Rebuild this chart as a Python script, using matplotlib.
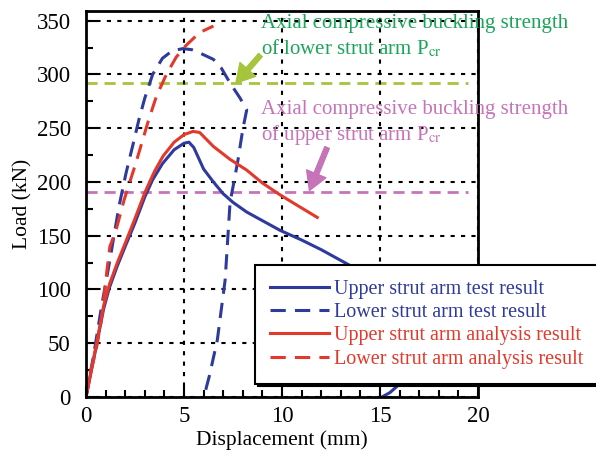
import matplotlib.pyplot as plt

plt.rcParams['font.family'] = ['Liberation Serif', 'DejaVu Serif']
plt.rcParams['mathtext.fontset'] = 'stix'

# upper strut arm test result (solid blue)
up_test_x = [0, 0.5, 0.9, 1.2, 1.6, 2.0, 2.5, 3.0, 3.4, 3.9, 4.5, 5.0, 5.25, 5.5, 6.0, 6.5, 7.0, 7.5, 8.2, 9.0, 9.9, 11.0, 12.0, 13.0, 14.0, 15.0, 15.8, 16.3, 16.0, 15.5, 15.1]
up_test_y = [0, 45, 82, 102, 122, 140, 162, 186, 202, 217, 230, 236, 237, 232, 212, 200, 189, 181, 172, 164, 155, 146, 137, 127, 117, 100, 70, 35, 12, 4, 0]

# lower strut arm test result (dashed blue)
low_test_x = [0, 0.4, 0.8, 1.05, 1.28, 1.68, 2.04, 2.4, 2.7, 3.0, 3.4, 3.9, 4.4, 4.95, 5.4, 5.8, 6.5, 6.9, 7.35, 7.86, 8.2, 8.0, 7.76, 7.6, 7.35, 7.1, 6.7, 6.3, 6.07, 6.0]
low_test_y = [0, 40, 85, 110, 134, 177, 208, 235, 258, 278, 300, 315, 322, 324, 323, 320, 314, 306, 292, 278, 267, 249, 221, 205, 181, 109, 53, 20, 4, 0]

# upper strut arm analysis result (solid red)
up_ana_x = [0, 0.5, 0.9, 1.2, 1.6, 2.0, 2.5, 3.0, 3.5, 3.93, 4.5, 5.0, 5.46, 5.8, 6.5, 7.35, 8.2, 9.0, 9.9, 10.8, 11.8]
up_ana_y = [0, 46, 85, 105, 125, 143, 166, 190, 210, 224, 237, 244, 247, 246, 233, 221, 211, 199, 188, 178, 167]

# lower strut arm analysis result (dashed red)
low_ana_x = [0, 0.2, 0.5, 0.77, 0.93, 1.07, 1.22, 1.53, 1.94, 2.55, 3.2, 3.6, 4.1, 4.6, 5.05, 5.8, 6.5]
low_ana_y = [0, 22, 42, 70, 95, 118, 140, 155, 183, 218, 258, 280, 300, 316, 326, 339, 345]

pcr_lower = 292
pcr_upper = 191

blue = '#2e3a9c'
red = '#e2392c'
green_line = '#a6c43c'
green_text = '#1ca55a'
pink = '#c674b8'

fig = plt.figure(figsize=(5.96, 4.54), dpi=100)
ax = fig.add_axes([0.1443, 0.1256, 0.6577, 0.8502])

ax.plot(up_test_x, up_test_y, color=blue, lw=2.2, label='Upper strut arm test result')
ax.plot(low_test_x, low_test_y, color=blue, lw=2.2, ls=(0, (5, 3)), label='Lower strut arm test result')
ax.plot(up_ana_x, up_ana_y, color=red, lw=2.2, label='Upper strut arm analysis result')
ax.plot(low_ana_x, low_ana_y, color=red, lw=2.2, ls=(0, (5, 3)), label='Lower strut arm analysis result')

ax.plot([0, 19.5], [pcr_lower, pcr_lower], color=green_line, lw=2, ls=(0, (4, 2.5)), zorder=1)
ax.plot([0, 19.5], [pcr_upper, pcr_upper], color=pink, lw=2, ls=(0, (4, 2.5)), zorder=1)

ax.text(8.95, 356, 'Axial compressive buckling strength\nof lower strut arm P$_{\\rm cr}$',
        color=green_text, fontsize=15, va='top', ha='left', linespacing=1.25)
ax.annotate('', xy=(7.65, pcr_lower), xytext=(8.9, 318),
            arrowprops=dict(facecolor=green_line, edgecolor=green_line, width=3.5, headwidth=15, headlength=13))
ax.text(8.95, 276, 'Axial compressive buckling strength\nof upper strut arm P$_{\\rm cr}$',
        color=pink, fontsize=15, va='top', ha='left', linespacing=1.25)
ax.annotate('', xy=(11.4, pcr_upper + 1), xytext=(12.3, 232),
            arrowprops=dict(facecolor=pink, edgecolor=pink, width=3.5, headwidth=15, headlength=13))

ax.set_xlim(0, 20)
ax.set_ylim(0, 359)
ax.set_xticks([0, 5, 10, 15, 20])
ax.set_yticks(range(0, 351, 50))
ax.set_xticks(range(0, 21), minor=True)
ax.set_yticks(range(0, 351, 25), minor=True)
ax.tick_params(which='both', direction='in', labelsize=16.5, width=1.5)
ax.tick_params(which='major', length=8)
ax.tick_params(which='minor', length=5)
ax.tick_params(axis='y', which='major', pad=11)
ax.tick_params(axis='x', which='major', pad=6.5)
ax.grid(True, which='major', color='black', ls=(0, (2, 3)), lw=1.5)
for s in ax.spines.values():
    s.set_linewidth(2)

ax.set_xlabel('Displacement (mm)', fontsize=15.5, labelpad=2)
ax.set_ylabel('Load (kN)', fontsize=15.5, labelpad=3)

leg = ax.legend(loc='upper left', bbox_to_anchor=(255 / 596, 1 - 265 / 454), bbox_transform=fig.transFigure,
                fontsize=14.5, frameon=True, fancybox=False, shadow={'color': 'black', 'alpha': 1},
                handlelength=2.9, handletextpad=0.25, borderpad=0.75, labelspacing=0.2, borderaxespad=0)
leg.get_frame().set_edgecolor('black')
leg.get_frame().set_linewidth(1.5)
leg.get_frame().set_alpha(1)
for t, c in zip(leg.get_texts(), [blue, blue, red, red]):
    t.set_color(c)

fig.savefig('out.png', dpi=100)
